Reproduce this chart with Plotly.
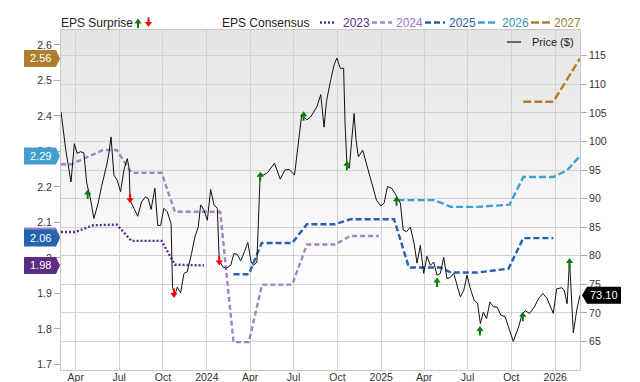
import plotly.graph_objects as go

# ---------------- data ----------------
price_dates = [
    "2023-03-01", "2023-03-11", "2023-03-22", "2023-03-29", "2023-04-04", "2023-04-11", "2023-04-18",
    "2023-04-24", "2023-05-01", "2023-05-09", "2023-05-18", "2023-05-25", "2023-06-05", "2023-06-10",
    "2023-06-14", "2023-06-20", "2023-06-27", "2023-07-04", "2023-07-11", "2023-07-18", "2023-07-22",
    "2023-07-24", "2023-08-01", "2023-08-09", "2023-08-17", "2023-08-25", "2023-08-31", "2023-09-06",
    "2023-09-14", "2023-09-20", "2023-09-26", "2023-10-03", "2023-10-10", "2023-10-18", "2023-10-21",
    "2023-10-26", "2023-10-31", "2023-11-07", "2023-11-14", "2023-11-21", "2023-11-30", "2023-12-07",
    "2023-12-14", "2023-12-19", "2023-12-26",
    "2024-01-02", "2024-01-09", "2024-01-16", "2024-01-23", "2024-01-27", "2024-02-04", "2024-02-11",
    "2024-02-20", "2024-02-27", "2024-03-05", "2024-03-12", "2024-03-20", "2024-03-27", "2024-04-03",
    "2024-04-08", "2024-04-15", "2024-04-22", "2024-04-29", "2024-05-07", "2024-05-22", "2024-06-03",
    "2024-06-13", "2024-06-22", "2024-07-03", "2024-07-11", "2024-07-18", "2024-07-29", "2024-08-06",
    "2024-08-19", "2024-08-27", "2024-09-03", "2024-09-08", "2024-09-17", "2024-09-24", "2024-09-30",
    "2024-10-07", "2024-10-14", "2024-10-17", "2024-10-21", "2024-10-26", "2024-10-31", "2024-11-05",
    "2024-11-09", "2024-11-14", "2024-11-23", "2024-12-03", "2024-12-14", "2024-12-22", "2024-12-31",
    "2025-01-07", "2025-01-14", "2025-01-23", "2025-02-01", "2025-02-10", "2025-02-16", "2025-02-23",
    "2025-03-03", "2025-03-11", "2025-03-17", "2025-03-24", "2025-03-31", "2025-04-07", "2025-04-14",
    "2025-04-21", "2025-04-28", "2025-05-05", "2025-05-12", "2025-05-19", "2025-05-26", "2025-06-02",
    "2025-06-16", "2025-06-23", "2025-06-30", "2025-07-07", "2025-07-15", "2025-07-22", "2025-07-28",
    "2025-08-03", "2025-08-10", "2025-08-17", "2025-08-24", "2025-09-01", "2025-09-09", "2025-09-18",
    "2025-09-25", "2025-10-05", "2025-10-16", "2025-10-23", "2025-10-30", "2025-11-08", "2025-11-18",
    "2025-11-27", "2025-12-06", "2025-12-15", "2025-12-28",
    "2026-01-04", "2026-01-15", "2026-01-20", "2026-01-26", "2026-01-31", "2026-02-08", "2026-02-15",
    "2026-02-22",
]
price_values = [
    105.2, 98.5, 92.9, 99.6, 97.9, 98.2, 98.0, 92.7, 90.3, 86.5, 89.2, 92.1, 95.9, 98.2, 100.8,
    94.1, 93.2, 91.2, 95.0, 97.0, 95.3, 89.7, 88.3, 86.9, 89.4, 90.3, 90.0, 88.1, 91.8, 85.3,
    85.3, 88.3, 87.7, 85.6, 74.5, 73.1, 74.5, 73.5, 76.9, 77.2, 80.4, 83.3, 85.0, 88.9, 88.0,
    86.2, 91.6, 88.9, 88.3, 79.2, 78.0, 77.8, 78.3, 80.4, 80.2, 79.1, 80.7, 82.3, 78.9, 78.3,
    78.9, 94.4, 94.1, 94.5, 96.2, 93.4, 95.0, 95.1, 94.1, 100.1, 104.6, 103.8, 104.3, 106.1, 108.2,
    102.5, 107.0, 110.8, 113.4, 114.6, 112.8, 112.8, 103.2, 95.9, 95.3, 100.3, 104.9, 100.3, 97.3,
    98.5, 95.6, 92.1, 89.7, 88.7,
    89.2, 92.1, 91.8, 90.6, 89.2, 84.5, 84.2, 85.0, 82.1, 78.7, 81.8, 76.9, 79.9, 78.3, 78.9,
    76.6, 76.9, 79.7, 76.0, 76.2, 76.9, 72.8, 73.9, 76.6, 74.2, 72.2, 71.7, 68.1, 70.1, 69.0,
    71.9, 71.1, 71.0, 69.6, 69.3, 67.5, 65.0, 67.5, 69.6, 70.4, 69.9, 71.0, 72.5, 73.4, 72.5, 69.9,
    74.2, 74.4, 73.9, 71.6, 79.2, 66.5, 70.4, 73.1,
]

eps2023_dates = ["2023-03-01", "2023-03-30", "2023-05-08", "2023-06-26", "2023-07-27", "2023-09-28",
                 "2023-10-26", "2023-12-26"]
eps2023_vals = [2.073, 2.073, 2.092, 2.094, 2.048, 2.048, 1.981, 1.979]

eps2024_dates = ["2023-03-01", "2023-03-23", "2023-05-28", "2023-06-26", "2023-07-27", "2023-09-28",
                 "2023-10-26", "2024-01-29", "2024-02-26", "2024-03-29", "2024-04-26", "2024-06-28",
                 "2024-07-29", "2024-09-26", "2024-10-28", "2024-12-27"]
eps2024_vals = [2.264, 2.264, 2.304, 2.304, 2.240, 2.240, 2.130, 2.130, 1.763, 1.763, 1.925, 1.925,
                2.038, 2.038, 2.062, 2.062]

eps2025_dates = ["2024-02-26", "2024-03-29", "2024-04-25", "2024-06-28", "2024-07-29", "2024-09-26",
                 "2024-10-28", "2025-01-28", "2025-02-28", "2025-05-05", "2025-05-27", "2025-07-22",
                 "2025-09-25", "2025-10-26", "2025-12-28"]
eps2025_vals = [1.954, 1.954, 2.042, 2.042, 2.095, 2.095, 2.109, 2.109, 1.973, 1.973, 1.959, 1.959,
                1.970, 2.056, 2.056]

eps2026_dates = ["2025-02-04", "2025-04-22", "2025-05-27", "2025-07-22", "2025-09-27", "2025-10-26",
                 "2025-12-28", "2026-01-26", "2026-02-22"]
eps2026_vals = [2.163, 2.163, 2.144, 2.144, 2.150, 2.228, 2.228, 2.247, 2.287]

eps2027_dates = ["2025-10-26", "2025-12-28", "2026-02-22"]
eps2027_vals = [2.440, 2.440, 2.562]

surprise_up_dates = ["2023-04-26", "2024-04-22", "2024-07-22", "2024-10-21", "2025-02-02",
                     "2025-04-28", "2025-07-27", "2025-10-25", "2026-01-31"]
surprise_up_vals = [91.6, 94.7, 105.3, 96.6, 90.4, 76.2, 67.7, 70.2, 79.6]
surprise_down_dates = ["2023-07-24", "2023-10-24", "2024-01-27"]
surprise_down_vals = [89.2, 72.6, 78.3]

x_tick_vals = ["2023-04-01", "2023-07-01", "2023-10-01", "2024-01-01", "2024-04-01", "2024-07-01",
               "2024-10-01", "2025-01-01", "2025-04-01", "2025-07-01", "2025-10-01", "2026-01-01"]
x_tick_text = ["Apr", "Jul", "Oct", "2024", "Apr", "Jul", "Oct", "2025", "Apr", "Jul", "Oct", "2026"]
eps_tick_vals = [1.7, 1.8, 1.9, 2.0, 2.1, 2.2, 2.3, 2.4, 2.5, 2.6]
eps_tick_text = ["1.7", "1.8", "1.9", "2", "2.1", "2.2", "2.3", "2.4", "2.5", "2.6"]
price_tick_vals = [65, 70, 75, 80, 85, 90, 95, 100, 105, 110, 115]

# ---------------- styling / layout ----------------
W, H = 640, 382
ML, MR, MT, MB = 61, 60, 30, 12
PW = W - ML - MR
PH = H - MT - MB
FONT = "Liberation Sans, Arial, Helvetica, sans-serif"


def px_x(x):
    return (x - ML) / PW


def px_y(y):
    return (H - MB - y) / PH


series = [
    ("2023", eps2023_dates, eps2023_vals, "#5c2d82", "2px,2px", "#5c2d82"),
    ("2024", eps2024_dates, eps2024_vals, "#a682c3", "5px,3px", "#9c78b8"),
    ("2025", eps2025_dates, eps2025_vals, "#2563ad", "6px,3px", "#2b5ea8"),
    ("2026", eps2026_dates, eps2026_vals, "#3fa0d0", "7px,3px", "#3a8fc0"),
    ("2027", eps2027_dates, eps2027_vals, "#b07d2f", "8px,3px", "#a57a3a"),
]

fig = go.Figure()
for name, d, v, col, dash, _ in series:
    fig.add_trace(go.Scatter(x=d, y=v, mode="lines", name=name, yaxis="y",
                             line=dict(color=col, width=2.4, dash=dash),
                             showlegend=False, hoverinfo="skip"))

fig.add_trace(go.Scatter(x=price_dates, y=price_values, mode="lines", name="Price ($)",
                         yaxis="y2", line=dict(color="#111111", width=1),
                         showlegend=False))

shapes = []
annotations = []

# gradient plot background
N = 40
g_lo = 0.22
for i in range(N):
    y0 = g_lo + i * (1 - g_lo) / N
    y1 = y0 + (1 - g_lo) / N + 0.002
    frac = (y0 + y1) / 2
    frac = (frac - g_lo) / (1 - g_lo)
    c = int(round(255 - 27 * frac))
    shapes.append(dict(type="rect", xref="paper", yref="paper", x0=0, x1=1, y0=y0, y1=min(y1, 1),
                       fillcolor=f"rgb({c},{c},{c})", line=dict(width=0), layer="below"))

# surprise arrows
UP_PATH = "M 0,0 L 3.6,-5 L 1,-5 L 1,-9.5 L -1,-9.5 L -1,-5 L -3.6,-5 Z"
DOWN_PATH = "M 0,0 L 3.6,5 L 1,5 L 1,9.5 L -1,9.5 L -1,5 L -3.6,5 Z"
for d, v in zip(surprise_up_dates, surprise_up_vals):
    shapes.append(dict(type="path", xref="x", yref="y2", xsizemode="pixel", ysizemode="pixel",
                       xanchor=d, yanchor=v, path=UP_PATH, fillcolor="#0a7d0a",
                       line=dict(width=0), layer="above"))
for d, v in zip(surprise_down_dates, surprise_down_vals):
    shapes.append(dict(type="path", xref="x", yref="y2", xsizemode="pixel", ysizemode="pixel",
                       xanchor=d, yanchor=v, path=DOWN_PATH, fillcolor="#ff0000",
                       line=dict(width=0), layer="above"))

# left badges (last consensus value of each year); 2024's sits hidden under 2025's
BADGE_L = "M -37,-8.5 L -5,-8.5 L -1,0 L -5,8.5 L -37,8.5 Z"
for name in ["2027", "2026", "2024", "2025", "2023"]:
    s = [t for t in series if t[0] == name][0]
    last = s[2][-1]
    shapes.append(dict(type="path", xref="paper", yref="y", xsizemode="pixel", ysizemode="pixel",
                       xanchor=0, yanchor=last, path=BADGE_L, fillcolor=s[3],
                       line=dict(width=0), layer="above"))
    if name != "2024":
        annotations.append(dict(xref="paper", yref="y", x=0, y=last, xshift=-21,
                                text=f"{last:.2f}", showarrow=False, xanchor="center",
                                yanchor="middle",
                                font=dict(family=FONT, size=11, color="white")))

# price badge
last_price = price_values[-1]
shapes.append(dict(type="path", xref="paper", yref="y2", xsizemode="pixel", ysizemode="pixel",
                   xanchor=1, yanchor=last_price,
                   path="M 2,0 L 7,-8.5 L 41,-8.5 L 41,8.5 L 7,8.5 Z",
                   fillcolor="#000000", line=dict(width=0), layer="above"))
annotations.append(dict(xref="paper", yref="y2", x=1, y=last_price, xshift=24,
                        text=f"{last_price:.2f}", showarrow=False, xanchor="center",
                        yanchor="middle", font=dict(family=FONT, size=11, color="white")))

# header legend
hy = px_y(23)
annotations.append(dict(xref="paper", yref="paper", x=px_x(59), y=hy, text="EPS Surprise",
                        showarrow=False, xanchor="left", yanchor="middle",
                        font=dict(family=FONT, size=12, color="#222222")))
shapes.append(dict(type="path", xref="paper", yref="paper", xsizemode="pixel", ysizemode="pixel",
                   xanchor=px_x(138), yanchor=px_y(18.5), path=UP_PATH, fillcolor="#0a7d0a",
                   line=dict(width=0)))
shapes.append(dict(type="path", xref="paper", yref="paper", xsizemode="pixel", ysizemode="pixel",
                   xanchor=px_x(148.5), yanchor=px_y(27), path=DOWN_PATH, fillcolor="#ff0000",
                   line=dict(width=0)))
annotations.append(dict(xref="paper", yref="paper", x=px_x(220), y=hy, text="EPS Consensus",
                        showarrow=False, xanchor="left", yanchor="middle",
                        font=dict(family=FONT, size=12, color="#222222")))
leg_pos = [(320, 335, 341), (372, 392, 394), (425, 445, 447), (478, 497, 500), (531, 551, 552)]
for (name, _, _, col, dash, tcol), (a, b, t) in zip(series, leg_pos):
    shapes.append(dict(type="line", xref="paper", yref="paper", x0=px_x(a), x1=px_x(b),
                       y0=px_y(22.5), y1=px_y(22.5), line=dict(color=col, width=2.5, dash=dash)))
    annotations.append(dict(xref="paper", yref="paper", x=px_x(t), y=hy, text=name,
                            showarrow=False, xanchor="left", yanchor="middle",
                            font=dict(family=FONT, size=12, color=tcol)))

# price legend
shapes.append(dict(type="line", xref="paper", yref="paper", x0=px_x(507), x1=px_x(521),
                   y0=px_y(42), y1=px_y(42), line=dict(color="#666666", width=2)))
annotations.append(dict(xref="paper", yref="paper", x=px_x(530), y=px_y(42), text="Price ($)",
                        showarrow=False, xanchor="left", yanchor="middle",
                        font=dict(family=FONT, size=11, color="#222222")))

tickfont = dict(family=FONT, size=10.5, color="#333333")
fig.update_layout(
    template="none",
    width=W, height=H,
    margin=dict(l=ML, r=MR, t=MT, b=MB, pad=0),
    paper_bgcolor="white", plot_bgcolor="white",
    showlegend=False,
    xaxis=dict(type="date", range=["2023-03-01", "2026-02-22"], tickvals=x_tick_vals,
               ticktext=x_tick_text, showgrid=True, gridcolor="#d2d2d2", gridwidth=1,
               ticks="", showline=True, linecolor="#c8c8c8", linewidth=1, mirror=True,
               zeroline=False, tickfont=tickfont, automargin=False, ticklabelstandoff=-3),
    yaxis=dict(range=[1.6845, 2.642], tickvals=eps_tick_vals, ticktext=eps_tick_text,
               showgrid=False, ticks="outside", ticklen=6, tickcolor="#aaaaaa",
               showline=True, linecolor="#c8c8c8", linewidth=1, zeroline=False,
               tickfont=tickfont, automargin=False),
    yaxis2=dict(overlaying="y", side="right", range=[60, 119.5], tickvals=price_tick_vals,
                showgrid=True, gridcolor="#d2d2d2", gridwidth=1, ticks="outside", ticklen=6,
                tickcolor="#aaaaaa", showline=True, linecolor="#c8c8c8", linewidth=1,
                zeroline=False, tickfont=tickfont, automargin=False),
    shapes=shapes,
    annotations=annotations,
)

fig.write_html("out.html", config={"displayModeBar": False},
               post_script="document.body.style.margin='0';document.body.style.overflow='hidden';")
